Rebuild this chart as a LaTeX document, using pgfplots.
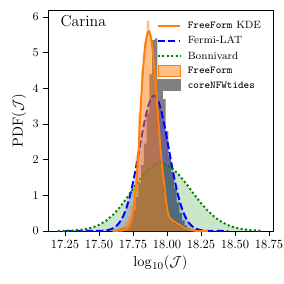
\documentclass[border=0pt]{standalone}
\usepackage{pgfplots}
\usepackage{pgfplotstable}
\pgfplotsset{compat=1.18}
\definecolor{orangeC}{HTML}{FF7F0E}
\definecolor{grayC}{HTML}{808080}

\pgfplotstableread{
x y
17.61 0.02
17.63 0.04
17.65 0.06
17.67 0.08
17.69 0.10
17.71 0.18
17.73 0.35
17.75 0.60
17.77 0.95
17.79 1.35
17.81 1.85
17.83 2.45
17.85 3.30
17.87 4.40
17.89 5.35
17.91 5.40
17.93 4.25
17.95 4.20
17.97 3.70
17.99 2.80
18.01 2.10
18.03 1.65
18.05 1.20
18.07 0.80
18.09 0.50
18.11 0.30
18.13 0.16
18.15 0.08
18.17 0.04
18.19 0.02
18.21 0.00
}\histcore

\pgfplotstableread{
x y
17.63 0.05
17.65 0.10
17.67 0.15
17.69 0.25
17.71 0.40
17.73 0.70
17.75 1.20
17.77 2.10
17.79 3.30
17.81 4.50
17.83 5.30
17.85 5.90
17.87 5.50
17.89 4.80
17.91 3.90
17.93 2.80
17.95 1.90
17.97 1.10
17.99 0.60
18.01 0.38
18.03 0.28
18.05 0.20
18.07 0.14
18.09 0.09
18.11 0.05
18.13 0.02
18.15 0.00
}\histff

\pgfplotstableread{
x y
17.60 0.00
17.66 0.01
17.68 0.02
17.70 0.05
17.72 0.12
17.73 0.20
17.74 0.32
17.75 0.50
17.76 0.80
17.77 1.15
17.78 1.60
17.79 2.20
17.80 3.00
17.81 3.70
17.82 4.30
17.83 4.85
17.84 5.20
17.85 5.45
17.86 5.58
17.87 5.60
17.88 5.45
17.89 5.20
17.90 4.90
17.91 4.50
17.92 4.00
17.93 3.45
17.94 2.90
17.95 2.40
17.96 1.95
17.97 1.60
17.98 1.30
17.99 0.95
18.00 0.65
18.01 0.47
18.02 0.37
18.04 0.30
18.06 0.25
18.08 0.20
18.10 0.15
18.12 0.10
18.15 0.05
18.18 0.02
18.22 0.00
18.30 0.00
}\kde

\pgfplotstableread{
x y
17.25 0.0000
17.35 0.0001
17.45 0.0010
17.50 0.0034
17.52 0.0066
17.54 0.0125
17.56 0.0231
17.58 0.041
17.60 0.070
17.62 0.117
17.64 0.187
17.66 0.290
17.68 0.434
17.70 0.627
17.72 0.876
17.74 1.183
17.76 1.543
17.78 1.945
17.80 2.369
17.82 2.788
17.84 3.171
17.86 3.484
17.88 3.700
17.90 3.796
17.92 3.764
17.94 3.606
17.96 3.338
17.98 2.986
18.00 2.581
18.02 2.156
18.04 1.740
18.06 1.357
18.08 1.022
18.10 0.745
18.12 0.524
18.14 0.356
18.16 0.234
18.18 0.149
18.20 0.091
18.22 0.054
18.24 0.031
18.26 0.017
18.28 0.0092
18.30 0.0048
18.35 0.0010
18.45 0.0000
}\fermi

\pgfplotstableread{
x y
17.20 0.0024
17.25 0.0056
17.30 0.0125
17.35 0.0262
17.40 0.0519
17.45 0.0971
17.50 0.171
17.55 0.283
17.60 0.443
17.65 0.652
17.70 0.903
17.75 1.181
17.80 1.454
17.85 1.687
17.90 1.844
17.95 1.900
18.00 1.854
18.05 1.721
18.10 1.521
18.15 1.280
18.20 1.025
18.25 0.781
18.30 0.566
18.35 0.391
18.40 0.257
18.45 0.161
18.50 0.0958
18.55 0.0543
18.60 0.0293
18.65 0.0150
18.70 0.0073
}\bonn

\begin{document}
\begin{tikzpicture}
\begin{axis}[
  scale only axis,
  width=171pt, height=168pt,
  xmin=17.125, xmax=18.779,
  ymin=0, ymax=6.196,
  xtick={17.25,17.5,17.75,18,18.25,18.5,18.75},
  xticklabels={17.25,17.50,17.75,18.00,18.25,18.50,18.75},
  ytick={0,1,2,3,4,5,6},
  tick align=outside,
  xtick pos=bottom, ytick pos=left,
  major tick length=3.5pt,
  tick style={black, line width=0.6pt},
  axis line style={black, line width=0.6pt},
  ticklabel style={font=\fontsize{9.5}{11}\selectfont},
  label style={font=\fontsize{11}{13}\selectfont},
  xlabel={$\log_{10}(\mathcal{J})$},
  ylabel={$\mathrm{PDF}(\mathcal{J})$},
  xlabel style={yshift=2pt},
  ylabel style={yshift=-2pt},
  legend style={draw=none, fill=none, at={(0.465,0.975)}, anchor=north west,
    font=\fontsize{8}{9}\selectfont, row sep=0.6pt,
    /tikz/every odd column/.append style={column sep=3pt}},
  legend cell align=left,
  clip=true,
]
% histograms and fills
\addplot[const plot, draw=none, fill=grayC, forget plot] table {\histcore} \closedcycle;
\addplot[draw=none, fill=blue, fill opacity=0.2, forget plot] table {\fermi} \closedcycle;
\addplot[draw=none, fill=green!50!black, fill opacity=0.2, forget plot] table {\bonn} \closedcycle;
\addplot[blue, line width=1.5pt, dash pattern=on 5.5pt off 2.4pt, forget plot] table {\fermi};
\addplot[green!50!black, line width=1.5pt, dash pattern=on 1.5pt off 1.9pt, forget plot] table {\bonn};
\addplot[const plot, draw=none, fill=orangeC, fill opacity=0.5, forget plot] table {\histff} \closedcycle;
\addplot[orangeC, line width=1.5pt, forget plot] table {\kde};

\addlegendimage{orangeC, line width=1.5pt}
\addlegendentry{\texttt{FreeForm} KDE}
\addlegendimage{blue, line width=1.5pt, dash pattern=on 5.5pt off 2.4pt}
\addlegendentry{Fermi-LAT}
\addlegendimage{green!50!black, line width=1.5pt, dash pattern=on 1.5pt off 1.9pt}
\addlegendentry{Bonnivard}
\addlegendimage{legend image code/.code={\fill[orangeC, fill opacity=0.5] (0cm,-0.13cm) rectangle (0.6cm,0.17cm);}}
\addlegendentry{\texttt{FreeForm}}
\addlegendimage{legend image code/.code={\fill[grayC] (0cm,-0.13cm) rectangle (0.6cm,0.17cm);}}
\addlegendentry{\texttt{coreNFWtides}}

\node[anchor=west, font=\fontsize{12}{14}\selectfont] at (rel axis cs:0.035,0.95) {Carina};
\end{axis}
\pgfresetboundingbox
\path ([xshift=-36.5pt,yshift=-40pt]current axis.south west) rectangle ([xshift=8.4pt,yshift=7.6pt]current axis.north east);
\end{tikzpicture}
\end{document}
